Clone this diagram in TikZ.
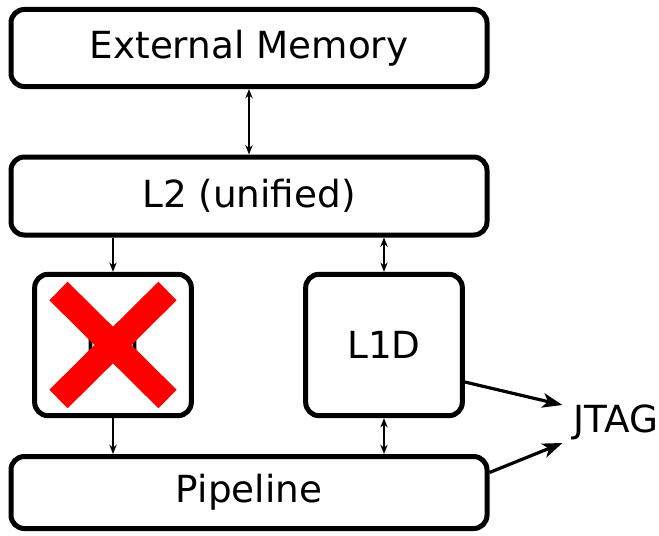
\documentclass[tikz,border=0pt]{standalone}
\usepackage{fontspec}
\setmainfont{DejaVu Sans}
\usetikzlibrary{arrows.meta,calc}
\begin{document}
\begin{tikzpicture}[x=0.75pt,y=-0.75pt,
  block/.style={draw=black,line width=3.75pt,rounded corners=10pt,fill=white,
    inner sep=0pt,font=\fontsize{28}{33}\selectfont},
  wide/.style={block,minimum width=357pt},
  small/.style={block,minimum width=117.5pt,minimum height=106pt},
  link/.style={line width=1.1pt,-{Stealth[length=7pt,width=5.5pt]}},
  dlink/.style={line width=1.1pt,{Stealth[length=7pt,width=5.5pt]}-{Stealth[length=7pt,width=5.5pt]}},
  jtaglink/.style={line width=2.4pt,-{Stealth[length=15pt,width=11pt,inset=4pt]}},
  cross/.style={draw=red,line width=19.5pt,line cap=butt}]
\useasboundingbox (0,0) rectangle (659,535);

\node[wide,minimum height=57.75pt] (ext) at (249,48) {External Memory};
\node[wide,minimum height=58.5pt] (l2) at (249,196) {L2 (unified)};
\node[small] (l1i) at (113,345) {L1I};
\node[small] (l1d) at (384,345) {L1D};
\node[wide,minimum height=54pt] (pipe) at (249,492.5) {Pipeline};
\node[font=\fontsize{28}{33}\selectfont,inner sep=0pt] (jtag) at (616,422) {JTAG};

% the instruction cache is struck out
\draw[cross] ($(l1i)+(-54.5,-54)$) -- ($(l1i)+(54.5,54)$);
\draw[cross] ($(l1i)+(-54.5,54)$) -- ($(l1i)+(54.5,-54)$);

\draw[dlink] (ext.south) -- (l2.north);
\draw[link] (l2.south -| l1i.north) -- (l1i.north);
\draw[dlink] (l2.south -| l1d.north) -- (l1d.north);
\draw[link] (l1i.south) -- (pipe.north -| l1i.south);
\draw[dlink] (l1d.south) -- (pipe.north -| l1d.south);

\draw[jtaglink] ($(l1d.east)+(0,37)$) -- ($(jtag.west)+(-11,-17)$);
\draw[jtaglink] ($(pipe.east)+(0,-20)$) -- ($(jtag.west)+(-11,21)$);
\end{tikzpicture}
\end{document}
